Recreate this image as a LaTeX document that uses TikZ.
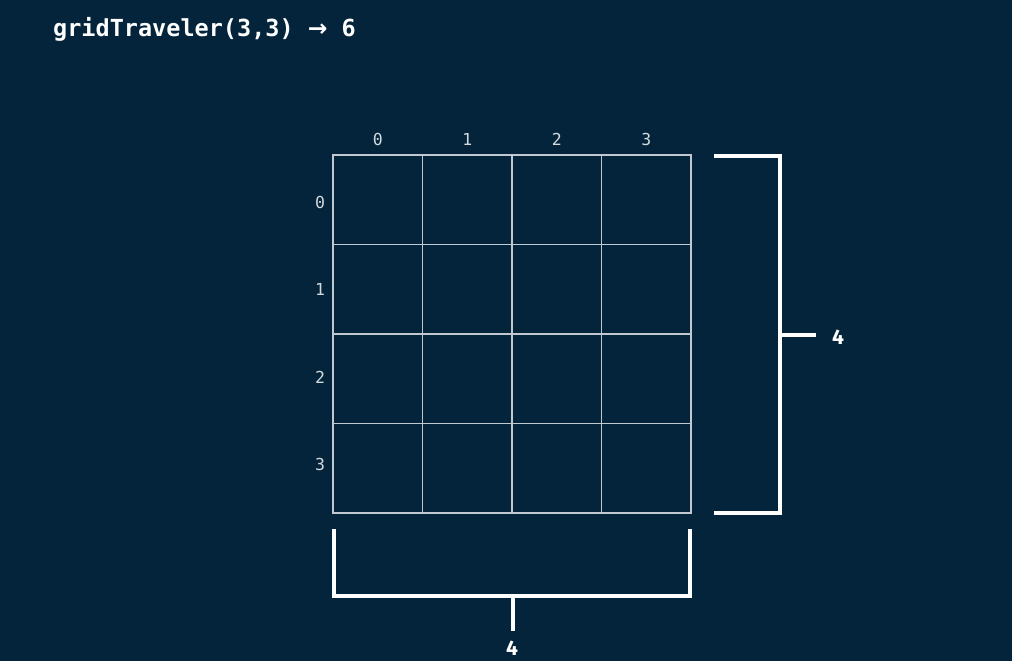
\documentclass[tikz,border=0pt]{standalone}
\usepackage{fontspec}
\setmainfont{Fira Sans}
\newfontfamily\codefont{DejaVu Sans Mono}
\newfontfamily\symfont{DejaVu Sans}
\definecolor{bgnavy}{HTML}{03243A}
\definecolor{gridgray}{HTML}{BFC9CF}
\definecolor{labelgray}{HTML}{D2DADE}
\begin{document}
\begin{tikzpicture}[x=1pt,y=-1pt,
  gridline/.style={draw=gridgray,line width=1.1pt},
  bracket/.style={draw=white,line width=4pt,line join=miter},
  idx/.style={text=labelgray,font=\codefont\fontsize{16.5}{16.5}\selectfont,inner sep=0pt},
  count/.style={text=white,font=\bfseries\fontsize{21}{21}\selectfont,inner sep=0pt},
  title/.style={text=white,font=\codefont\bfseries\fontsize{23.5}{23.5}\selectfont,inner sep=0pt,anchor=base west}]
  % canvas
  \fill[bgnavy] (0,0) rectangle (1012,661);
  \useasboundingbox (0,0) rectangle (1012,661);

  % heading
  \node[title] (head) at (53,37) {gridTraveler(3,3) {\symfont\bfseries →} 6};

  % the 4x4 grid
  \draw[gridline] (333,155) rectangle (691,513);
  \foreach \i in {1,2,3} {
    \draw[gridline] ({333+\i*89.5},155) -- ({333+\i*89.5},513);
    \draw[gridline] (333,{155+\i*89.5}) -- (691,{155+\i*89.5});
  }

  % column and row indices
  \foreach \i in {0,1,2,3} {
    \node[idx] (col\i) at ({377.75+\i*89.5},139) {\i};
    \node[idx] (row\i) at (320,{202+\i*87.5}) {\i};
  }

  % right bracket: four rows
  \draw[bracket] (714,156) -- (780,156) -- (780,513) -- (714,513);
  \coordinate (rtip) at (816,335);
  \draw[bracket] (780,335) -- (rtip);
  \node[count] (rows) at (838,337) {4};

  % bottom bracket: four columns
  \draw[bracket] (334,529) -- (334,596) -- (690,596) -- (690,529);
  \coordinate (btip) at (513,631);
  \draw[bracket] (513,596) -- (btip);
  \node[count] (cols) at (512,648) {4};
\end{tikzpicture}
\end{document}
